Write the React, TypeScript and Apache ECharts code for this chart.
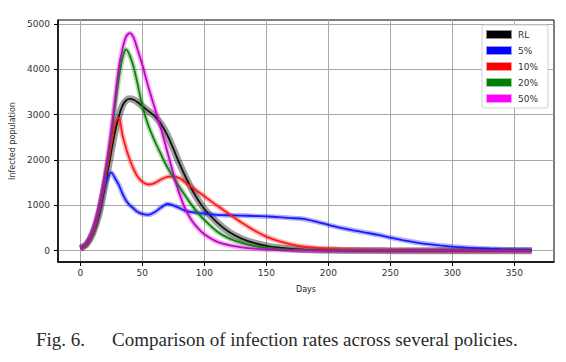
import React, { useEffect, useRef } from "react";
import * as echarts from "echarts";

const days = [0, 5, 10, 15, 20, 25, 28, 31, 34, 37, 40, 43, 46, 50, 55, 60, 65, 70, 75, 80, 85, 90, 95, 100, 110, 120, 130, 140, 150, 160, 170, 180, 190, 200, 210, 220, 230, 240, 250, 260, 270, 280, 290, 300, 310, 320, 330, 340, 350, 364];

const rlValues = [50, 140, 380, 800, 1460, 2200, 2620, 2960, 3200, 3320, 3350, 3330, 3280, 3190, 3080, 2970, 2800, 2560, 2250, 1920, 1620, 1350, 1120, 920, 630, 410, 265, 170, 105, 65, 40, 25, 15, 9, 6, 4, 3, 2, 1, 0, 0, 0, 0, 0, 0, 0, 0, 0, 0, 0];
const p5Values = [50, 140, 380, 820, 1450, 1720, 1600, 1450, 1260, 1100, 1000, 930, 860, 810, 790, 850, 950, 1030, 1000, 940, 880, 850, 830, 820, 790, 780, 775, 765, 755, 740, 720, 700, 640, 570, 505, 450, 400, 350, 290, 235, 185, 145, 115, 90, 70, 55, 42, 32, 25, 18];
const p10Values = [50, 140, 390, 850, 1550, 2350, 2820, 2930, 2550, 2250, 2000, 1800, 1640, 1520, 1460, 1490, 1570, 1630, 1640, 1600, 1500, 1400, 1300, 1200, 1000, 810, 620, 450, 310, 210, 140, 90, 60, 40, 27, 18, 12, 8, 5, 3, 2, 1, 0, 0, 0, 0, 0, 0, 0, 0];
const p20Values = [50, 150, 420, 900, 1600, 2550, 3200, 3800, 4250, 4440, 4300, 4050, 3700, 3200, 2750, 2420, 2130, 1850, 1620, 1400, 1200, 1000, 830, 680, 430, 270, 170, 105, 65, 40, 25, 15, 10, 6, 4, 3, 2, 1, 0, 0, 0, 0, 0, 0, 0, 0, 0, 0, 0, 0];
const p50Values = [50, 160, 450, 950, 1680, 2650, 3330, 4020, 4450, 4730, 4800, 4700, 4450, 4100, 3600, 3150, 2700, 2200, 1700, 1250, 900, 660, 490, 360, 200, 120, 75, 45, 28, 18, 10, 6, 4, 3, 2, 2, 1, 1, 1, 1, 1, 0, 0, 0, 0, 0, 0, 0, 0, 0];

const xTicks = [0, 50, 100, 150, 200, 250, 300, 350];
const yTicks = [0, 1000, 2000, 3000, 4000, 5000];

const seriesDefs = [
  { name: "RL", values: rlValues, line: "#111111", band: "rgba(0,0,0,0.38)", bandWidth: 7, legendColor: "#000000", legendBorder: "rgba(0,0,0,0.45)" },
  { name: "5%", values: p5Values, line: "#1a1aff", band: "rgba(0,0,255,0.3)", bandWidth: 5, legendColor: "#0000ff", legendBorder: "rgba(0,0,255,0.4)" },
  { name: "10%", values: p10Values, line: "#ff1a1a", band: "rgba(255,0,0,0.3)", bandWidth: 5, legendColor: "#ff0000", legendBorder: "rgba(255,0,0,0.4)" },
  { name: "20%", values: p20Values, line: "#108010", band: "rgba(0,128,0,0.3)", bandWidth: 5, legendColor: "#008000", legendBorder: "rgba(0,128,0,0.4)" },
  { name: "50%", values: p50Values, line: "#b010b8", band: "rgba(255,0,255,0.35)", bandWidth: 5, legendColor: "#ff00ff", legendBorder: "rgba(255,0,255,0.4)" },
];

const FONT = "DejaVu Sans";

export default function App() {
  const ref = useRef<HTMLDivElement>(null);
  useEffect(() => {
    if (!ref.current) return;
    const chart = echarts.init(ref.current, undefined, { renderer: "svg" });
    const series: any[] = [];
    seriesDefs.forEach((s) => {
      const data = days.map((d, i) => [d, s.values[i]]);
      series.push({
        name: s.name + " band",
        type: "line",
        data,
        smooth: 0.3,
        showSymbol: false,
        silent: true,
        lineStyle: { color: s.band, width: s.bandWidth },
        itemStyle: { color: s.band },
        z: 2,
      });
      series.push({
        name: s.name,
        type: "line",
        data,
        smooth: 0.3,
        showSymbol: false,
        lineStyle: { color: s.line, width: 1.8 },
        itemStyle: { color: s.legendColor },
        z: 3,
      });
    });
    chart.setOption({
      animation: false,
      grid: { left: 57, right: 12, top: 20, bottom: 100, show: true, borderColor: "#000", borderWidth: 1, backgroundColor: "#fff" },
      xAxis: {
        type: "value",
        min: -18,
        max: 382,
        name: "Days",
        nameLocation: "middle",
        nameGap: 23,
        nameTextStyle: { fontFamily: FONT, fontSize: 8, color: "#222" },
        axisLine: { show: true, onZero: false, lineStyle: { color: "#000", width: 1.5 } },
        axisTick: { show: true, length: 4, lineStyle: { color: "#000" }, customValues: xTicks },
        axisLabel: { fontFamily: FONT, fontSize: 9, color: "#333", margin: 6, customValues: xTicks, formatter: (v: number) => String(v) },
        splitLine: { show: true, lineStyle: { color: "#a8a8a8", width: 1 } },
      },
      yAxis: {
        type: "value",
        min: -250,
        max: 5090,
        name: "Infected population",
        nameLocation: "middle",
        nameGap: 42,
        nameTextStyle: { fontFamily: FONT, fontSize: 8, color: "#333" },
        axisLine: { show: true, onZero: false, lineStyle: { color: "#000", width: 1.5 } },
        axisTick: { show: true, length: 4, lineStyle: { color: "#000" }, customValues: yTicks },
        axisLabel: { fontFamily: FONT, fontSize: 9, color: "#333", margin: 8, customValues: yTicks, formatter: (v: number) => String(v) },
        splitLine: { show: true, lineStyle: { color: "#a8a8a8", width: 1 } },
      },
      legend: {
        orient: "vertical",
        right: 18,
        top: 25,
        icon: "rect",
        itemWidth: 24,
        itemHeight: 7,
        itemGap: 5,
        padding: [4, 10, 4, 4],
        backgroundColor: "#fff",
        borderColor: "#d0d0d0",
        borderWidth: 1,
        borderRadius: 2,
        textStyle: { fontFamily: FONT, fontSize: 9, color: "#333", lineHeight: 11, padding: [0, 0, 0, 2] },
        data: seriesDefs.map((s) => ({
          name: s.name,
          itemStyle: { color: s.legendColor, borderColor: s.legendBorder, borderWidth: 2 },
        })),
      },
      graphic: [
        { type: "text", left: 36, top: 330, style: { text: "Fig. 6.", fontFamily: "Liberation Serif", fontSize: 19, fill: "#2a2a2a" } },
        { type: "text", left: 112, top: 330, style: { text: "Comparison of infection rates across several policies.", fontFamily: "Liberation Serif", fontSize: 19, fill: "#2a2a2a" } },
      ],
      series,
    });
    return () => chart.dispose();
  }, []);
  return <div ref={ref} style={{ position: "fixed", left: 0, top: 0, width: 566, height: 362, background: "#fff" }} />;
}
